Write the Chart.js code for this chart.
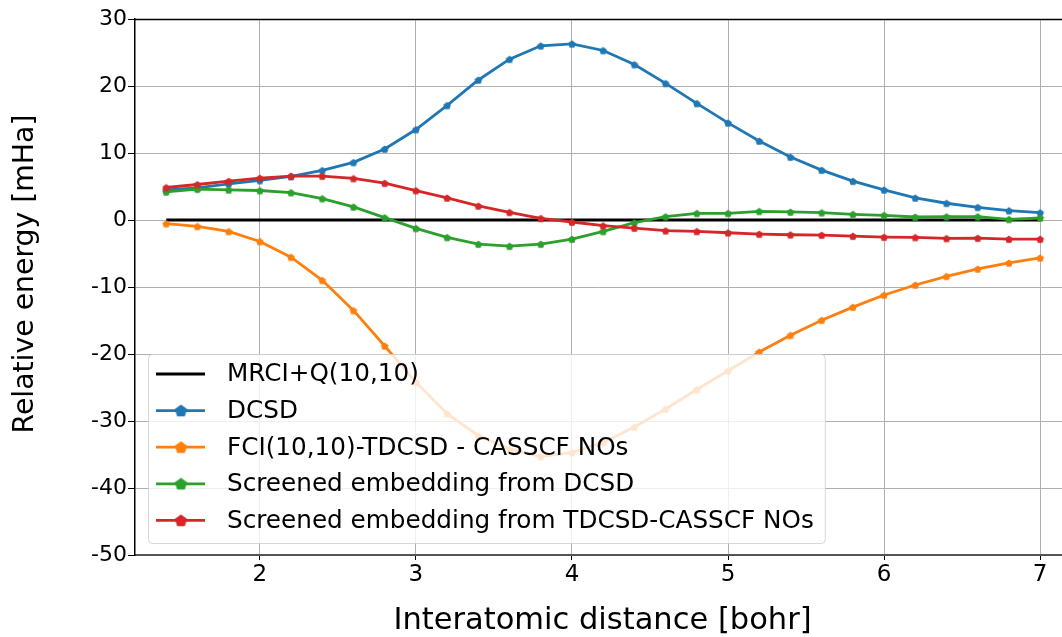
<!DOCTYPE html>
<html>
<head>
<meta charset="utf-8">
<script src="https://cdn.jsdelivr.net/npm/chart.js@4.4.1/dist/chart.umd.min.js"></script>
<style>
  html, body { margin: 0; padding: 0; background: #ffffff; }
  #wrap { width: 1062px; height: 637px; }
</style>
</head>
<body>
<div id="wrap"><canvas id="c" width="1062" height="637"></canvas></div>
<script>
// Interatomic distances [bohr]
const distances = [1.4, 1.6, 1.8, 2.0, 2.2, 2.4, 2.6, 2.8, 3.0, 3.2, 3.4, 3.6, 3.8, 4.0,
                   4.2, 4.4, 4.6, 4.8, 5.0, 5.2, 5.4, 5.6, 5.8, 6.0, 6.2, 6.4, 6.6, 6.8, 7.0];

// Relative energies [mHa] with respect to MRCI+Q(10,10)
const mrciQ = [0, 0, 0, 0, 0, 0, 0, 0, 0, 0, 0, 0, 0, 0,
               0, 0, 0, 0, 0, 0, 0, 0, 0, 0, 0, 0, 0, 0, 0];
const dcsd = [4.5, 4.8, 5.4, 5.9, 6.5, 7.4, 8.6, 10.6, 13.5, 17.1, 20.9, 24.0, 26.0, 26.3,
              25.3, 23.2, 20.4, 17.4, 14.5, 11.8, 9.4, 7.45, 5.8, 4.5, 3.3, 2.5, 1.9, 1.4, 1.1];
const fciTdcsd = [-0.55, -0.95, -1.7, -3.2, -5.55, -9.0, -13.5, -18.8, -24.2, -28.9, -32.2, -34.2, -35.3, -34.7,
                  -33.2, -30.9, -28.2, -25.3, -22.5, -19.7, -17.2, -14.95, -13.0, -11.2, -9.7, -8.4, -7.3, -6.4, -5.65];
const screenedDcsd = [4.2, 4.6, 4.5, 4.4, 4.1, 3.2, 1.95, 0.35, -1.25, -2.6, -3.6, -3.9, -3.6, -2.85,
                      -1.7, -0.4, 0.5, 1.0, 1.0, 1.3, 1.2, 1.1, 0.85, 0.7, 0.45, 0.5, 0.5, 0.1, 0.3];
const screenedTdcsd = [4.85, 5.3, 5.8, 6.25, 6.55, 6.55, 6.2, 5.5, 4.4, 3.3, 2.1, 1.15, 0.25, -0.3,
                       -0.85, -1.2, -1.6, -1.7, -1.9, -2.1, -2.2, -2.25, -2.4, -2.55, -2.6, -2.75, -2.7, -2.85, -2.85];

const seriesLabels = ['MRCI+Q(10,10)', 'DCSD', 'FCI(10,10)-TDCSD - CASSCF NOs',
                      'Screened embedding from DCSD', 'Screened embedding from TDCSD-CASSCF NOs'];
const seriesColors = ['#000000', '#1f77b4', '#ff7f0e', '#2ca02c', '#d62728'];
const seriesValues = [mrciQ, dcsd, fciTdcsd, screenedDcsd, screenedTdcsd];

const xTicks = [2, 3, 4, 5, 6, 7];
const yTicks = [-50, -40, -30, -20, -10, 0, 10, 20, 30];
const xTitle = 'Interatomic distance [bohr]';
const yTitle = 'Relative energy [mHa]';

const FONT = "'DejaVu Sans', sans-serif";

// Filled pentagon marker drawn onto a small canvas
function pentagon(color, r) {
  const size = Math.ceil(2 * r + 2);
  const cv = document.createElement('canvas');
  cv.width = size; cv.height = size;
  const g = cv.getContext('2d');
  g.beginPath();
  for (let k = 0; k < 5; k++) {
    const a = -Math.PI / 2 + k * 2 * Math.PI / 5;
    const px = size / 2 + r * Math.cos(a), py = size / 2 + r * Math.sin(a) + 0.4;
    if (k === 0) g.moveTo(px, py); else g.lineTo(px, py);
  }
  g.closePath();
  g.fillStyle = color;
  g.fill();
  return cv;
}

const datasets = seriesValues.map((vals, i) => ({
  label: seriesLabels[i],
  data: distances.map((d, j) => ({ x: d, y: vals[j] })),
  borderColor: seriesColors[i],
  backgroundColor: seriesColors[i],
  borderWidth: i === 0 ? 3.2 : 2.8,
  pointStyle: i === 0 ? false : pentagon(seriesColors[i], 4),
  pointRadius: i === 0 ? 0 : 4,
  legendMarker: i === 0 ? null : pentagon(seriesColors[i], 6.5),
  tension: 0,
  order: seriesValues.length - i
}));

// Legend box inside the plot area (lower left), top frame line and axis titles
const decorations = {
  id: 'decorations',
  afterDatasetsDraw(chart) {
    const { ctx, chartArea } = chart;
    const rowH = 36.6;
    const n = chart.data.datasets.length;
    ctx.save();
    ctx.font = '24.7px ' + FONT;
    let tw = 0;
    chart.data.datasets.forEach(ds => { tw = Math.max(tw, ctx.measureText(ds.label).width); });
    const x0 = chartArea.left + 13;
    const h = n * rowH + 6;
    const y0 = chartArea.bottom - 12 - h;
    const w = 79 + tw + 11;
    ctx.beginPath();
    ctx.roundRect(x0 + 0.5, y0 + 0.5, w, h, 4);
    ctx.fillStyle = 'rgba(255,255,255,0.8)';
    ctx.fill();
    ctx.strokeStyle = 'rgba(204,204,204,0.8)';
    ctx.lineWidth = 1;
    ctx.stroke();
    chart.data.datasets.forEach((ds, i) => {
      const cy = y0 + 20 + i * rowH;
      ctx.beginPath();
      ctx.moveTo(x0 + 8, cy);
      ctx.lineTo(x0 + 57, cy);
      ctx.strokeStyle = ds.borderColor;
      ctx.lineWidth = ds.borderWidth;
      ctx.stroke();
      if (ds.legendMarker) {
        const m = ds.legendMarker;
        ctx.drawImage(m, x0 + 33 - m.width / 2, cy - m.height / 2);
      }
      ctx.fillStyle = '#000000';
      ctx.textBaseline = 'middle';
      ctx.textAlign = 'left';
      ctx.fillText(ds.label, x0 + 79, cy + 1);
    });
    ctx.restore();
  },
  afterDraw(chart) {
    const { ctx, chartArea } = chart;
    ctx.save();
    ctx.beginPath();
    ctx.moveTo(chartArea.left, chartArea.top + 0.5);
    ctx.lineTo(chartArea.right, chartArea.top + 0.5);
    ctx.strokeStyle = '#000000';
    ctx.lineWidth = 1.5;
    ctx.stroke();

    ctx.fillStyle = '#000000';
    ctx.textAlign = 'center';
    ctx.textBaseline = 'middle';
    ctx.font = '30.5px ' + FONT;
    ctx.fillText(xTitle, (chartArea.left + chartArea.right) / 2 + 4, 621);
    ctx.translate(26, chartArea.top + (chartArea.bottom - chartArea.top) / 2 - 13);
    ctx.rotate(-Math.PI / 2);
    ctx.font = '28.3px ' + FONT;
    ctx.fillText(yTitle, 0, 0);
    ctx.restore();
  }
};

new Chart(document.getElementById('c'), {
  type: 'line',
  data: { datasets },
  options: {
    responsive: false,
    animation: false,
    devicePixelRatio: 1,
    layout: { autoPadding: false, padding: { top: 19, right: 0, left: 0, bottom: 0 } },
    plugins: { legend: { display: false }, tooltip: { enabled: false } },
    scales: {
      x: {
        type: 'linear',
        min: 1.2,
        max: 7.14,
        afterBuildTicks: s => { s.ticks = xTicks.map(v => ({ value: v })); },
        afterFit: s => { s.height = 82; s.paddingLeft = 0; s.paddingRight = 0; },
        grid: { color: '#b0b0b0', lineWidth: 1, tickLength: 5, tickColor: '#000000' },
        border: { color: '#555555', width: 2 },
        ticks: { color: '#000000', font: { family: FONT, size: 23 }, padding: 1, maxRotation: 0 },
        title: { display: false }
      },
      y: {
        type: 'linear',
        min: -50,
        max: 30,
        afterBuildTicks: s => { s.ticks = yTicks.map(v => ({ value: v })); },
        afterFit: s => { s.width = 135; s.paddingTop = 0; s.paddingBottom = 0; },
        grid: { color: '#b0b0b0', lineWidth: 1, tickLength: 7, tickColor: '#000000' },
        border: { color: '#000000', width: 1.5 },
        ticks: { color: '#000000', font: { family: FONT, size: 22 }, padding: 1 },
        title: { display: false }
      }
    }
  },
  plugins: [decorations]
});
</script>
</body>
</html>
